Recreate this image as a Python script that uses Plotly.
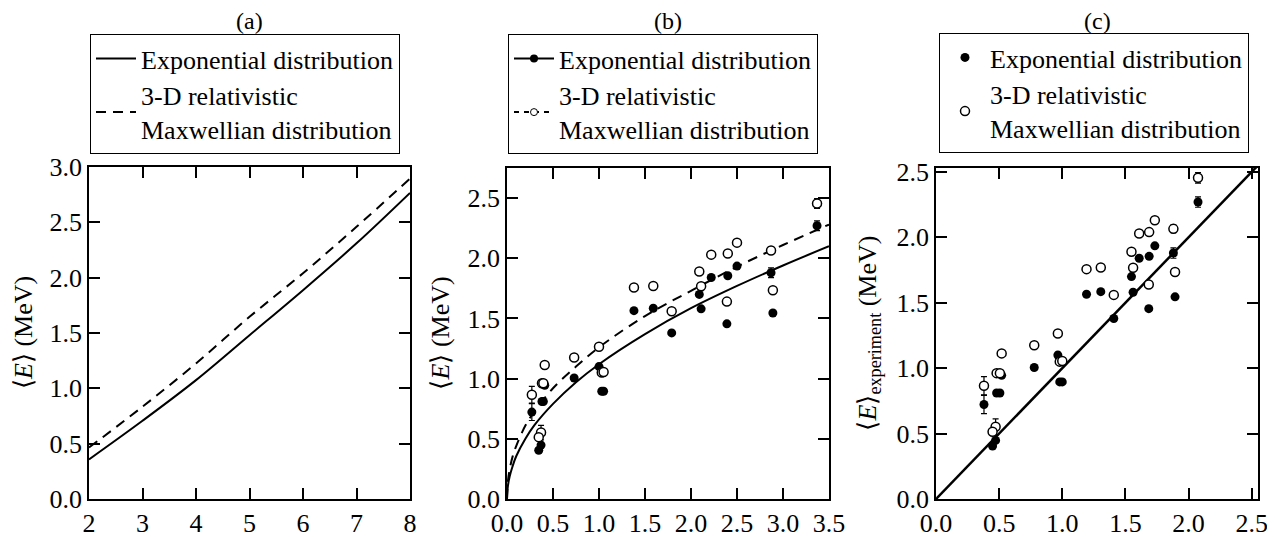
import plotly.graph_objects as go

# ---------------- data ----------------
# Panel (a): mean energy curves
a_x = [2, 3, 4, 5, 6, 7, 8]
a_exp = [0.358, 0.707, 1.074, 1.48, 1.887, 2.31, 2.766]
a_max = [0.465, 0.834, 1.225, 1.646, 2.04, 2.46, 2.895]

# Panel (b): fitted curves
b_cx = [0, 0.01, 0.03, 0.06, 0.1, 0.2, 0.3, 0.5, 0.75, 1.0, 1.5, 2.0, 2.5, 3.0, 3.5]
b_exp_curve = [0, 0.11, 0.19, 0.27, 0.355, 0.50, 0.615, 0.79, 0.97, 1.12, 1.37, 1.585, 1.77, 1.94, 2.10]
b_max_curve = [0, 0.15, 0.25, 0.35, 0.44, 0.61, 0.73, 0.92, 1.10, 1.26, 1.52, 1.73, 1.93, 2.11, 2.28]

# Data points (shared y values in panels b and c)
x_b = [3.37, 2.50, 2.40, 2.22, 2.87, 2.09, 2.11, 1.38, 1.59, 1.79, 2.39, 2.89,
       1.00, 0.73, 0.41, 0.38, 0.395, 0.27, 0.37, 0.345, 1.03, 1.05]
x_c = [2.075, 1.733, 1.688, 1.609, 1.88, 1.548, 1.561, 1.192, 1.305, 1.408, 1.685, 1.893,
       0.965, 0.778, 0.52, 0.48, 0.506, 0.38, 0.472, 0.448, 0.98, 1.0]
y_exp = [2.27, 1.935, 1.855, 1.84, 1.88, 1.70, 1.58, 1.565, 1.585, 1.38, 1.455, 1.545,
         1.10, 1.005, 0.945, 0.81, 0.81, 0.722, 0.448, 0.405, 0.895, 0.895]
y_max = [2.455, 2.13, 2.04, 2.03, 2.065, 1.89, 1.767, 1.757, 1.77, 1.56, 1.64, 1.735,
         1.265, 1.175, 1.113, 0.962, 0.962, 0.866, 0.552, 0.514, 1.05, 1.055]
err_exp = [0.04, 0, 0, 0, 0.04, 0, 0, 0, 0, 0, 0, 0,
           0.02, 0, 0, 0, 0, 0.07, 0, 0, 0, 0]
err_max = [0.04, 0, 0, 0, 0.03, 0, 0, 0, 0, 0, 0, 0,
           0.02, 0, 0, 0, 0, 0.07, 0.06, 0, 0, 0]

# Panel (c): equality line
diag = [0, 2.55]

label_exp = "Exponential distribution"
label_max = "3-D relativistic<br>Maxwellian distribution"
panel_titles = ["(a)", "(b)", "(c)"]

# ---------------- layout helpers ----------------
OFF = 8                      # page body margin
W, H = 1275 - OFF, 537 - OFF
FONT = "Liberation Serif"
FS = 26

def fx(px):
    return (px - OFF) / W

def fy(py):
    return 1 - (py - OFF) / H

panels = {  # pixel boxes in window coords: left, right, top, bottom
    "a": (89, 410, 167, 499),
    "b": (507, 829, 168, 499),
    "c": (936, 1258, 168, 499),
}

fig = go.Figure()

# Panel (a)
fig.add_trace(go.Scatter(x=a_x, y=a_exp, mode="lines", line=dict(color="black", width=2, shape="spline"),
                         name=label_exp, legend="legend", xaxis="x", yaxis="y"))
fig.add_trace(go.Scatter(x=a_x, y=a_max, mode="lines",
                         line=dict(color="black", width=2, dash="10px,7px", shape="spline"),
                         name=label_max, legend="legend", xaxis="x", yaxis="y"))

# Panel (b)
fig.add_trace(go.Scatter(x=b_cx, y=b_exp_curve, mode="lines", line=dict(color="black", width=2, shape="spline"),
                         showlegend=False, xaxis="x2", yaxis="y2"))
fig.add_trace(go.Scatter(x=b_cx, y=b_max_curve, mode="lines",
                         line=dict(color="black", width=2, dash="10px,7px", shape="spline"),
                         showlegend=False, xaxis="x2", yaxis="y2"))
fig.add_trace(go.Scatter(x=x_b, y=y_exp, mode="markers",
                         marker=dict(symbol="circle", size=9, color="black"),
                         error_y=dict(type="data", array=err_exp, color="black", thickness=1.2, width=3),
                         showlegend=False, xaxis="x2", yaxis="y2"))
fig.add_trace(go.Scatter(x=x_b, y=y_max, mode="markers",
                         marker=dict(symbol="circle", size=9, color="white", line=dict(color="black", width=1.5)),
                         error_y=dict(type="data", array=err_max, color="black", thickness=1.2, width=3),
                         showlegend=False, xaxis="x2", yaxis="y2"))
fig.add_trace(go.Scatter(x=[None], y=[None], mode="lines+markers",
                         line=dict(color="black", width=2),
                         marker=dict(symbol="circle", size=8, color="black"),
                         name=label_exp, legend="legend2", xaxis="x2", yaxis="y2"))
fig.add_trace(go.Scatter(x=[None], y=[None], mode="lines+markers",
                         line=dict(color="black", width=2, dash="5px,5px"),
                         marker=dict(symbol="circle", size=7, color="white", line=dict(color="black", width=1)),
                         name=label_max, legend="legend2", xaxis="x2", yaxis="y2"))

# Panel (c)
fig.add_trace(go.Scatter(x=diag, y=diag, mode="lines", line=dict(color="black", width=2.5),
                         showlegend=False, xaxis="x3", yaxis="y3"))
fig.add_trace(go.Scatter(x=x_c, y=y_exp, mode="markers",
                         marker=dict(symbol="circle", size=9, color="black"),
                         error_y=dict(type="data", array=err_exp, color="black", thickness=1.2, width=3),
                         name=label_exp, legend="legend3", xaxis="x3", yaxis="y3"))
fig.add_trace(go.Scatter(x=x_c, y=y_max, mode="markers",
                         marker=dict(symbol="circle", size=9, color="white", line=dict(color="black", width=1.5)),
                         error_y=dict(type="data", array=err_max, color="black", thickness=1.2, width=3),
                         name=label_max, legend="legend3", xaxis="x3", yaxis="y3"))

axis_common = dict(showline=True, linecolor="black", linewidth=1.5, mirror="allticks",
                   ticks="inside", ticklen=11, tickwidth=1.5, tickcolor="black",
                   showgrid=False, zeroline=False, automargin=False,
                   tickfont=dict(family=FONT, size=FS, color="black"))

def xdom(k):
    l, r, t, b = panels[k]
    return [fx(l), fx(r)]

def ydom(k):
    l, r, t, b = panels[k]
    return [fy(b), fy(t)]

layout = dict(
    width=W, height=H, margin=dict(l=0, r=0, t=0, b=0, autoexpand=False),
    paper_bgcolor="white", plot_bgcolor="white",
    font=dict(family=FONT, color="black", size=FS),
    xaxis=dict(domain=xdom("a"), range=[2, 8], dtick=1, tick0=2, anchor="y", **axis_common),
    yaxis=dict(domain=ydom("a"), range=[0, 3.0], dtick=0.5, tickformat=".1f", anchor="x", **axis_common),
    xaxis2=dict(domain=xdom("b"), range=[0, 3.5], dtick=0.5, tickformat=".1f", anchor="y2", **axis_common),
    yaxis2=dict(domain=ydom("b"), range=[0, 2.75], dtick=0.5, tickformat=".1f", anchor="x2", **axis_common),
    xaxis3=dict(domain=xdom("c"), range=[0, 2.55], dtick=0.5, tickformat=".1f", anchor="y3", **axis_common),
    yaxis3=dict(domain=ydom("c"), range=[0, 2.53], dtick=0.5, tickformat=".1f", anchor="x3", **axis_common),
)

legend_common = dict(bordercolor="black", borderwidth=1, bgcolor="white",
                     font=dict(family=FONT, size=FS, color="black"),
                     xanchor="left", yanchor="top", itemwidth=40, tracegroupgap=0)
layout["legend"] = dict(x=fx(90), y=fy(34), **legend_common)
layout["legend2"] = dict(x=fx(508), y=fy(34), **legend_common)
layout["legend3"] = dict(x=fx(939), y=fy(33), **legend_common)

annotations = []
for k, t in zip(["a", "b", "c"], panel_titles):
    l, r, tp, b = panels[k]
    annotations.append(dict(text=t, x=fx((l + r) / 2), y=fy(21), xref="paper", yref="paper",
                            showarrow=False, font=dict(family=FONT, size=24, color="black"),
                            xanchor="center", yanchor="middle"))
ylabels = [("⟨<i>E</i>⟩ (MeV)", 23), ("⟨<i>E</i>⟩ (MeV)", 440), ("⟨<i>E</i>⟩<sub>experiment</sub> (MeV)", 868)]
for (txt, xp), k in zip(ylabels, ["a", "b", "c"]):
    l, r, tp, b = panels[k]
    annotations.append(dict(text=txt, x=fx(xp), y=fy((tp + b) / 2), xref="paper", yref="paper",
                            showarrow=False, textangle=-90, font=dict(family=FONT, size=FS, color="black"),
                            xanchor="center", yanchor="middle"))
layout["annotations"] = annotations

fig.update_layout(**layout)
fig.write_html("out.html")
